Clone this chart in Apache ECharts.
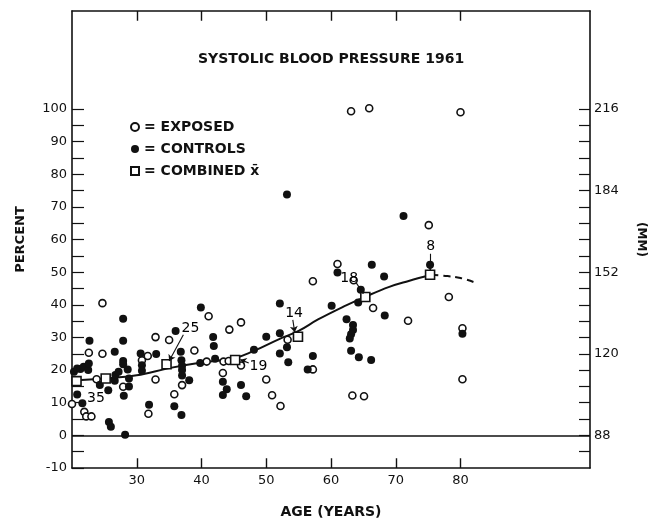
<!DOCTYPE html>
<html><head><meta charset="utf-8">
<script src="https://cdn.jsdelivr.net/npm/echarts@6/dist/echarts.min.js"></script>
<style>html,body{margin:0;padding:0;background:#fff}#c{width:648px;height:524px}</style>
</head><body><div id="c"></div>
<script>
// ---- data (age in years, percent) ----
const exposed = [
  [20.0, 9.6], [21.9, 7.2], [22.2, 5.8], [23.0, 5.8], [22.6, 25.3], [23.8, 17.2],
  [24.7, 40.5], [24.7, 25.0], [27.9, 14.9], [30.8, 23.0], [31.7, 24.3], [31.8, 6.6],
  [32.9, 30.1], [32.9, 17.1], [35.0, 29.2], [35.8, 12.6], [37.0, 15.4], [38.9, 26.0],
  [40.8, 22.6], [41.1, 36.5], [43.3, 19.1], [43.4, 22.6], [44.2, 22.8], [44.3, 32.4],
  [46.1, 34.6], [46.1, 21.4], [50.0, 17.1], [50.9, 12.3], [52.2, 9.0], [53.3, 29.3],
  [57.2, 47.2], [57.2, 20.2], [61.0, 52.5], [63.1, 99.3], [63.3, 12.2], [63.5, 47.5],
  [65.1, 12.0], [65.9, 100.2], [66.5, 39.0], [71.9, 35.1], [75.1, 64.4], [78.2, 42.4],
  [80.0, 99.0], [80.3, 32.8], [80.3, 17.2]
];
const controls = [
  [20.3, 19.5], [20.8, 20.5], [21.3, 20.3], [21.8, 21.0], [22.5, 20.0], [20.8, 12.5],
  [21.6, 9.8], [22.7, 29.0], [22.6, 22.0], [24.3, 15.4], [25.6, 13.8], [25.7, 4.1],
  [26.0, 2.6], [26.6, 25.6], [26.6, 16.7], [26.7, 18.5], [27.2, 19.5], [27.9, 35.7],
  [27.9, 29.0], [27.9, 22.8], [27.9, 21.8], [28.0, 12.1], [28.2, 0.2], [28.6, 20.2],
  [28.8, 17.4], [28.8, 15.0], [30.6, 25.1], [30.8, 21.5], [30.8, 19.8], [31.9, 9.4],
  [33.0, 24.9], [35.8, 8.9], [36.0, 32.0], [36.8, 25.6], [36.9, 23.0], [37.0, 21.3],
  [37.0, 20.0], [37.0, 18.3], [36.9, 6.2], [38.1, 16.9], [39.9, 39.2], [39.8, 22.2],
  [41.8, 30.1], [41.9, 27.4], [42.1, 23.5], [43.3, 16.4], [43.9, 14.1], [43.3, 12.4],
  [46.1, 15.4], [46.9, 12.0], [48.1, 26.2], [50.0, 30.2], [52.1, 40.4], [52.1, 31.3],
  [52.1, 25.1], [53.2, 73.8], [53.2, 27.0], [53.4, 22.4], [56.4, 20.2], [57.2, 24.3],
  [60.1, 39.7], [61.0, 49.9], [62.4, 35.6], [63.4, 33.8], [63.4, 32.3], [63.1, 31.0],
  [62.9, 29.7], [63.1, 25.9], [64.2, 40.7], [64.3, 23.9], [64.6, 44.6], [66.2, 23.1],
  [66.3, 52.3], [68.2, 48.7], [68.3, 36.7], [71.2, 67.2], [75.3, 52.3], [80.3, 31.1]
];
const combined = [
  [20.7, 16.6], [25.2, 17.4], [34.6, 21.8], [45.2, 23.1], [54.9, 30.2], [65.3, 42.4], [75.3, 49.2]
];
const trendSolid = [
  [20, 16.8], [25, 17.4], [30, 18.4], [35, 20.6], [40, 22.3], [45, 23.6], [48, 25.8],
  [52, 29.5], [55, 32.0], [58, 35.5], [62, 39.5], [65, 42.2], [69, 45.5], [72, 47.3], [75.5, 49.2]
];
const trendDashed = [[75.5, 49.2], [78, 48.8], [80, 48.2], [82, 47.0]];

const annoText = ['35', '25', '19', '14', '18', '8'];
const annoPos = [[23.7, 11.4], [38.3, 32.8], [48.8, 21.0], [54.3, 37.4], [62.8, 48.0], [75.4, 58.0]];
const annoLeaders = [
  [[37.2, 30.8], [35.0, 22.8]],
  [[47.3, 22.2], [46.0, 23.2]],
  [[54.1, 35.4], [54.4, 31.6]],
  [[63.9, 46.7], [65.0, 43.4]],
  [[75.3, 55.6], [75.3, 50.5]]
];

const ageLabels = [30, 40, 50, 60, 70, 80];
const pctLabels = [-10, 0, 10, 20, 30, 40, 50, 60, 70, 80, 90, 100];
const pctTicks = [-10, -5, 0, 5, 10, 15, 20, 25, 30, 35, 40, 45, 50, 55, 60, 65, 70, 75, 80, 85, 90, 95, 100];
const mmLabels = [88, 120, 152, 184, 216];
const mmTicks = [81.6, 88, 94.4, 100.8, 107.2, 113.6, 120, 126.4, 132.8, 139.2, 145.6, 152, 158.4, 164.8, 171.2, 177.6, 184, 190.4, 196.8, 203.2, 209.6, 216];
const mmZero = 88, mmPerPct = 1.28;   // 0 % = 88 mm, 100 % = 216 mm

const INK = '#111';
const FONT = 'DejaVu Sans';
const X_MIN = 20, X_MAX = 100, Y_MIN = -10, Y_MAX = 130;
const AGE_TICK_LEN = 3;   // percent units (~10 px)

const chart = echarts.init(document.getElementById('c'), null, {renderer: 'canvas'});
const toPct = m => (m - mmZero) / mmPerPct;

const ageTickSegments = [];
ageLabels.forEach(a => {
  ageTickSegments.push({coords: [[a, Y_MIN], [a, Y_MIN + AGE_TICK_LEN]]});
  ageTickSegments.push({coords: [[a, Y_MAX], [a, Y_MAX - AGE_TICK_LEN]]});
});

chart.setOption({
  animation: false,
  backgroundColor: '#fff',
  textStyle: {fontFamily: FONT, color: INK},
  title: {
    text: 'SYSTOLIC BLOOD PRESSURE 1961',
    left: 193, top: 47,
    textStyle: {fontFamily: FONT, fontSize: 14, fontWeight: 'bold', color: INK}
  },
  legend: {
    data: ['EXPOSED', 'CONTROLS', 'COMBINED x\u0304'],
    orient: 'vertical', left: 125, top: 115, itemGap: 8,
    itemWidth: 8, itemHeight: 8,
    formatter: '= {name}',
    textStyle: {fontFamily: FONT, fontSize: 14, fontWeight: 'bold', color: INK}
  },
  grid: {left: 72, right: 58, top: 11, bottom: 56, containLabel: false, outerBoundsMode: 'none'},
  xAxis: [{
    type: 'value', min: X_MIN, max: X_MAX, interval: 10, position: 'bottom',
    name: 'AGE (YEARS)', nameLocation: 'middle', nameGap: 37,
    nameTextStyle: {fontFamily: FONT, fontSize: 14, fontWeight: 'bold', color: INK},
    axisLine: {show: true, onZero: false, lineStyle: {color: INK, width: 1.6}},
    axisTick: {show: false},
    axisLabel: {customValues: ageLabels, margin: 6, fontFamily: FONT, fontSize: 13, color: INK},
    splitLine: {show: false}
  }, {
    type: 'value', min: X_MIN, max: X_MAX, interval: 10, position: 'top',
    axisLine: {show: true, onZero: false, lineStyle: {color: INK, width: 1.6}},
    axisTick: {show: false},
    axisLabel: {show: false},
    splitLine: {show: false}
  }],
  yAxis: [{
    type: 'value', min: Y_MIN, max: Y_MAX, interval: 10, position: 'left',
    name: 'PERCENT', nameLocation: 'middle', nameGap: 45, nameRotate: 90,
    nameTextStyle: {fontFamily: FONT, fontSize: 13, fontWeight: 'bold', color: INK},
    axisLine: {show: true, onZero: false, lineStyle: {color: INK, width: 1.6}},
    axisTick: {show: true, inside: true, length: 12, customValues: pctTicks, lineStyle: {color: INK, width: 1.2}},
    axisLabel: {customValues: pctLabels, margin: 5, fontFamily: FONT, fontSize: 13, color: INK},
    splitLine: {show: false}
  }, {
    type: 'value', min: Y_MIN, max: Y_MAX, interval: 10, position: 'right',
    name: '(MM)', nameLocation: 'middle', nameGap: 45, nameRotate: -90,
    nameTextStyle: {fontFamily: FONT, fontSize: 12, fontWeight: 'bold', color: INK},
    axisLine: {show: true, onZero: false, lineStyle: {color: INK, width: 1.6}},
    axisTick: {show: true, inside: true, length: 11, customValues: mmTicks.map(toPct), lineStyle: {color: INK, width: 1.2}},
    axisLabel: {
      customValues: mmLabels.map(toPct), margin: 4, fontFamily: FONT, fontSize: 13, color: INK,
      formatter: v => String(Math.round(mmZero + v * mmPerPct))
    },
    splitLine: {show: false}
  }],
  series: [
    {
      name: 'trend', type: 'line', data: trendSolid, smooth: 0.4, showSymbol: false, silent: true,
      lineStyle: {color: INK, width: 2}, z: 2,
      markLine: {
        silent: true, symbol: 'none', label: {show: false},
        lineStyle: {color: INK, width: 1.6, type: 'solid'},
        data: [{yAxis: 0}]
      }
    },
    {
      name: 'trend2', type: 'line', data: trendDashed, smooth: 0.4, showSymbol: false, silent: true,
      lineStyle: {color: INK, width: 2, type: [7, 5]}, z: 2
    },
    {
      name: 'EXPOSED', type: 'scatter', data: exposed, symbol: 'circle', symbolSize: 7,
      itemStyle: {color: '#fff', borderColor: INK, borderWidth: 1.6, opacity: 1}, z: 4
    },
    {
      name: 'CONTROLS', type: 'scatter', data: controls, symbol: 'circle', symbolSize: 8,
      itemStyle: {color: INK, opacity: 1}, z: 4
    },
    {
      name: 'COMBINED x\u0304', type: 'scatter', data: combined, symbol: 'rect', symbolSize: 9,
      itemStyle: {color: '#fff', borderColor: INK, borderWidth: 1.6, opacity: 1}, z: 5
    },
    {
      name: 'leaders', type: 'lines', coordinateSystem: 'cartesian2d', silent: true,
      data: annoLeaders.map(c => ({coords: c})),
      symbol: ['none', 'arrow'], symbolSize: 6,
      lineStyle: {color: INK, width: 1.1, opacity: 1, curveness: 0}, z: 6
    },
    {
      name: 'ageTicks', type: 'lines', coordinateSystem: 'cartesian2d', silent: true,
      data: ageTickSegments, symbol: 'none',
      lineStyle: {color: INK, width: 1.4, opacity: 1, curveness: 0}, z: 8
    },
    {
      name: 'annotations', type: 'custom', silent: true, z: 7,
      data: annoPos.map((p, i) => ({value: p, name: annoText[i]})),
      renderItem: (params, api) => {
        const pt = api.coord([api.value(0), api.value(1)]);
        return {
          type: 'text', x: pt[0], y: pt[1],
          style: {
            text: annoText[params.dataIndex], fill: '#000',
            font: '14px "DejaVu Sans"', align: 'center', verticalAlign: 'middle'
          }
        };
      }
    }
  ]
});
</script>
</body></html>
